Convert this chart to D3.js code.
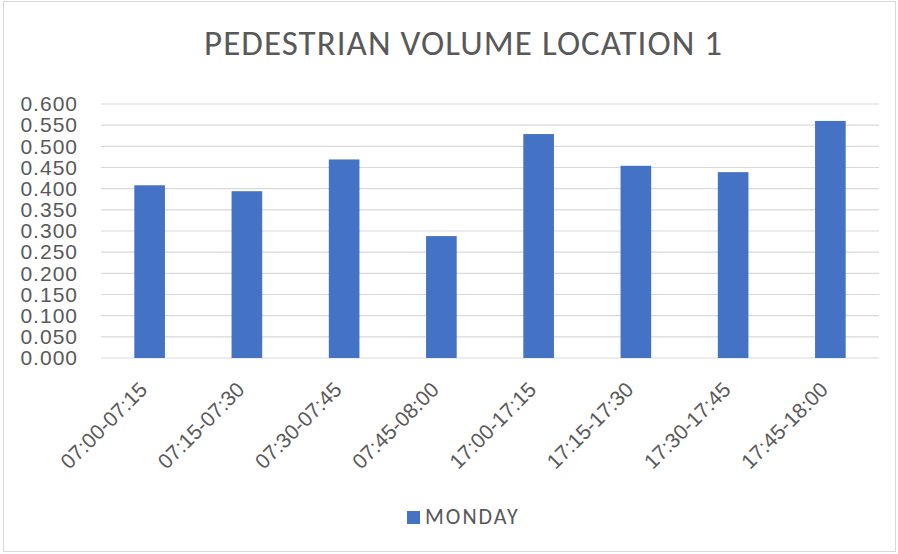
<!DOCTYPE html>
<html>
<head>
<meta charset="utf-8">
<script src="https://cdn.jsdelivr.net/npm/d3@7"></script>
<style>
  body { margin: 0; background: #fff; }
  svg { display: block; font-family: Carlito, "Liberation Sans Narrow", "Open Sans", sans-serif; }
</style>
</head>
<body>
<svg id="chart" width="898" height="554"></svg>
<script>
// --- data ---
const periods = ['07:00-07:15', '07:15-07:30', '07:30-07:45', '07:45-08:00',
                 '17:00-17:15', '17:15-17:30', '17:30-17:45', '17:45-18:00'];
const monday = [0.408, 0.394, 0.469, 0.288, 0.529, 0.454, 0.439, 0.560];
const yTicks = [0, 0.05, 0.1, 0.15, 0.2, 0.25, 0.3, 0.35, 0.4, 0.45, 0.5, 0.55, 0.6];
const seriesName = 'MONDAY';
const chartTitle = 'PEDESTRIAN VOLUME LOCATION 1';

const W = 898, H = 554;
const margin = { top: 104, right: 19, bottom: 196, left: 101 };
const textColor = '#595959';
const barColor = '#4472c4';

const svg = d3.select('#chart');

// outer frame
svg.append('rect')
    .attr('x', 3.5).attr('y', 1.5)
    .attr('width', W - 6).attr('height', H - 4)
    .attr('fill', '#fff').attr('stroke', '#d9d9d9');

svg.append('text')
    .attr('x', 463).attr('y', 55)
    .attr('text-anchor', 'middle')
    .attr('font-size', 35)
    .attr('textLength', 518)
    .attr('lengthAdjust', 'spacing')
    .attr('fill', textColor)
    .text(chartTitle);

const x = d3.scaleBand()
    .domain(periods)
    .range([margin.left, W - margin.right])
    .paddingInner(0.685).paddingOuter(0.3425);

const y = d3.scaleLinear()
    .domain([0, 0.6])
    .range([H - margin.bottom, margin.top]);

// gridlines
svg.append('g')
    .selectAll('line')
    .data(yTicks)
    .join('line')
    .attr('x1', margin.left).attr('x2', W - margin.right)
    .attr('y1', d => y(d)).attr('y2', d => y(d))
    .attr('stroke', '#d9d9d9').attr('stroke-width', 1.2);

// y axis labels
const yAxis = svg.append('g')
    .attr('transform', `translate(${margin.left - 23},0)`)
    .call(d3.axisLeft(y).tickValues(yTicks).tickFormat(d3.format('.3f')).tickSize(0).tickPadding(0));
yAxis.select('.domain').remove();
yAxis.selectAll('text')
    .attr('font-size', 21)
    .attr('letter-spacing', 1)
    .attr('font-family', 'inherit')
    .attr('fill', textColor);

// bars
svg.append('g')
    .selectAll('rect')
    .data(monday)
    .join('rect')
    .attr('x', (d, i) => x(periods[i]))
    .attr('width', x.bandwidth())
    .attr('y', d => y(d))
    .attr('height', d => y(0) - y(d))
    .attr('fill', barColor);

// x axis labels
const xAxis = svg.append('g')
    .attr('transform', `translate(0,${H - margin.bottom})`)
    .call(d3.axisBottom(x).tickSize(0).tickPadding(0));
xAxis.select('.domain').remove();
xAxis.selectAll('text')
    .attr('font-size', 21)
    .attr('font-family', 'inherit')
    .attr('fill', textColor)
    .attr('text-anchor', 'end')
    .attr('dy', null)
    .attr('transform', 'translate(-1,33) rotate(-45)');

// legend
const legend = svg.append('g').attr('transform', 'translate(407,511)');
legend.append('rect')
    .attr('width', 13).attr('height', 13)
    .attr('fill', barColor);
legend.append('text')
    .attr('x', 18).attr('y', 13)
    .attr('font-size', 22)
    .attr('letter-spacing', 2)
    .attr('fill', textColor)
    .text(seriesName);
</script>
</body>
</html>
